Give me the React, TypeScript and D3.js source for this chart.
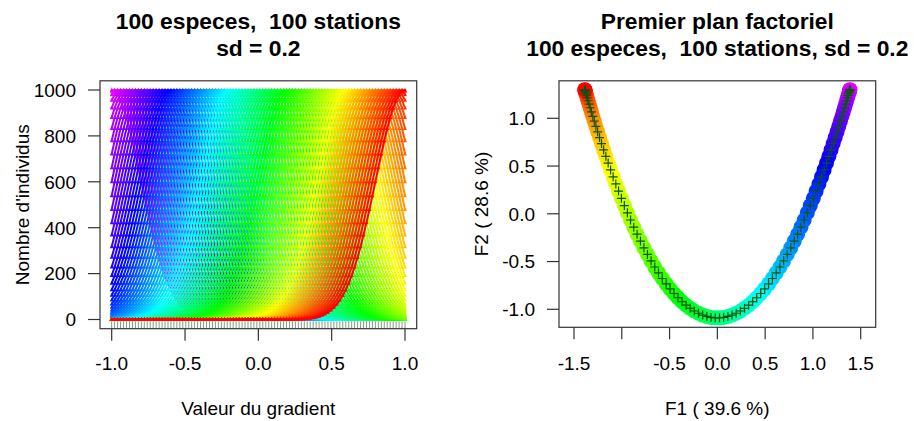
import React from 'react';
import * as d3 from 'd3';

// Gradient positions of the 100 stations (also the optima of the 100 species)
const gradient = [
  -1.0, -0.9798, -0.9596, -0.9394, -0.9192, -0.899, -0.8788, -0.8586, -0.8384, -0.8182,
  -0.798, -0.7778, -0.7576, -0.7374, -0.7172, -0.697, -0.6768, -0.6566, -0.6364, -0.6162,
  -0.596, -0.5758, -0.5556, -0.5354, -0.5152, -0.4949, -0.4747, -0.4545, -0.4343, -0.4141,
  -0.3939, -0.3737, -0.3535, -0.3333, -0.3131, -0.2929, -0.2727, -0.2525, -0.2323, -0.2121,
  -0.1919, -0.1717, -0.1515, -0.1313, -0.1111, -0.0909, -0.0707, -0.0505, -0.0303, -0.0101,
  0.0101, 0.0303, 0.0505, 0.0707, 0.0909, 0.1111, 0.1313, 0.1515, 0.1717, 0.1919,
  0.2121, 0.2323, 0.2525, 0.2727, 0.2929, 0.3131, 0.3333, 0.3535, 0.3737, 0.3939,
  0.4141, 0.4343, 0.4545, 0.4747, 0.4949, 0.5152, 0.5354, 0.5556, 0.5758, 0.596,
  0.6162, 0.6364, 0.6566, 0.6768, 0.697, 0.7172, 0.7374, 0.7576, 0.7778, 0.798,
  0.8182, 0.8384, 0.8586, 0.8788, 0.899, 0.9192, 0.9394, 0.9596, 0.9798, 1.0,
];

// Abundance of a species at a station k steps away from its optimum (sd = 0.2)
const profile = [
  1000, 994.9, 979.8, 955.1, 921.6, 880.3, 832.2, 778.8, 721.5, 661.5,
  600.4, 539.4, 479.7, 422.2, 367.9, 317.3, 270.9, 228.9, 191.5, 158.5,
  130.0, 105.4, 84.7, 67.3, 53.0, 41.2, 31.8, 24.3, 18.3, 13.7,
  10.1, 7.4, 5.4, 3.9, 2.7, 1.9, 1.3, 0.9, 0.6, 0.4, 0.3,
];

// Station scores on the first factorial plane (stations in gradient order)
const F1 = [
  1.387, 1.3863, 1.3842, 1.3807, 1.3759, 1.3696, 1.3619, 1.3529, 1.3425, 1.3308,
  1.3178, 1.3034, 1.2877, 1.2707, 1.2524, 1.2328, 1.212, 1.19, 1.1668, 1.1424,
  1.1169, 1.0903, 1.0625, 1.0337, 1.0038, 0.9729, 0.9411, 0.9082, 0.8746, 0.84,
  0.8045, 0.7683, 0.7313, 0.6935, 0.655, 0.6159, 0.5762, 0.5359, 0.495, 0.4536,
  0.4118, 0.3696, 0.327, 0.2841, 0.2409, 0.1974, 0.1537, 0.1099, 0.066, 0.022,
  -0.022, -0.066, -0.1099, -0.1537, -0.1974, -0.2409, -0.2841, -0.327, -0.3696, -0.4118,
  -0.4536, -0.495, -0.5359, -0.5762, -0.6159, -0.655, -0.6935, -0.7313, -0.7683, -0.8045,
  -0.84, -0.8746, -0.9082, -0.9411, -0.9729, -1.0038, -1.0337, -1.0625, -1.0903, -1.1169,
  -1.1424, -1.1668, -1.19, -1.212, -1.2328, -1.2524, -1.2707, -1.2877, -1.3034, -1.3178,
  -1.3308, -1.3425, -1.3529, -1.3619, -1.3696, -1.3759, -1.3807, -1.3842, -1.3863, -1.387,
];
const F2 = [
  1.3, 1.2976, 1.2904, 1.2784, 1.2617, 1.2403, 1.2144, 1.184, 1.1493, 1.1103,
  1.0673, 1.0204, 0.9699, 0.9158, 0.8585, 0.7982, 0.735, 0.6694, 0.6014, 0.5315,
  0.4598, 0.3868, 0.3125, 0.2375, 0.1619, 0.086, 0.0103, -0.0651, -0.1398, -0.2134,
  -0.2858, -0.3567, -0.4257, -0.4925, -0.5569, -0.6187, -0.6776, -0.7333, -0.7856, -0.8343,
  -0.8793, -0.9203, -0.9572, -0.9897, -1.0179, -1.0416, -1.0606, -1.075, -1.0846, -1.0894,
  -1.0894, -1.0846, -1.075, -1.0606, -1.0416, -1.0179, -0.9897, -0.9572, -0.9203, -0.8793,
  -0.8343, -0.7856, -0.7333, -0.6776, -0.6187, -0.5569, -0.4925, -0.4257, -0.3567, -0.2858,
  -0.2134, -0.1398, -0.0651, 0.0103, 0.086, 0.1619, 0.2375, 0.3125, 0.3868, 0.4598,
  0.5315, 0.6014, 0.6694, 0.735, 0.7982, 0.8585, 0.9158, 0.9699, 1.0204, 1.0673,
  1.1103, 1.1493, 1.184, 1.2144, 1.2403, 1.2617, 1.2784, 1.2904, 1.2976, 1.3,
];

const leftXTicks = [-1, -0.5, 0, 0.5, 1];
const leftXLabels = ['-1.0', '-0.5', '0.0', '0.5', '1.0'];
const leftYTicks = [0, 200, 400, 600, 800, 1000];
const rightXTicks = [-1.5, -1, -0.5, 0, 0.5, 1, 1.5];
const rightXLabels = ['-1.5', '', '-0.5', '0.0', '0.5', '1.0', '1.5'];
const rightYTicks = [-1, -0.5, 0, 0.5, 1];
const rightYLabels = ['-1.0', '-0.5', '0.0', '0.5', '1.0'];

const FONT = '"Liberation Sans", Arial, Helvetica, sans-serif';

const colorOf = (i: number, n: number) =>
  d3.hsl((300 * (n - 1 - i)) / (n - 1), 1, 0.5).formatHex();

export default function App() {
  const n = gradient.length;
  // left panel
  const xL = d3.scaleLinear().domain([-1, 1]).range([111.7, 405]);
  const yL = d3.scaleLinear().domain([0, 1000]).range([319.5, 90]);
  const boxL = { x0: 100, x1: 416.7, y0: 80.8, y1: 328.7 };
  // right panel
  const xR = d3.scaleLinear().domain([-1.5, 1.5]).range([574, 860.7]);
  const yR = d3.scaleLinear().domain([-1, 1]).range([309.3, 118.3]);
  const boxR = { x0: 559, x1: 875.7, y0: 80.8, y1: 327.3 };

  const line = d3
    .line<number>()
    .x((_, i) => xL(gradient[i]))
    .y((v) => yL(v));

  const tri = (cx: number, cy: number, w: number, h: number) =>
    `M${cx.toFixed(2)},${(cy - h * 0.6).toFixed(2)}l${w / 2},${h}h${-w}Z`;

  const curves: React.ReactNode[] = [];
  for (let j = 0; j < n; j++) {
    const vals = gradient.map((_, i) => {
      const k = Math.abs(i - j);
      return k < profile.length ? profile[k] : 0;
    });
    const col = colorOf(j, n);
    let pts = '';
    vals.forEach((v, i) => {
      pts += tri(xL(gradient[i]), yL(v), 4, 3.8);
    });
    curves.push(
      <g key={'s' + j}>
        <path d={line(vals) || ''} fill="none" stroke={col} strokeWidth={2} strokeLinejoin="round" />
        <path d={pts} fill={col} />
      </g>
    );
  }

  const axisStroke = '#333';
  const pre = { whiteSpace: 'pre' as const };
  return (
    <svg
      width={914}
      height={421}
      style={{ position: 'absolute', left: 0, top: 0, background: '#fff' }}
      fontFamily={FONT}
    >
      {/* LEFT PANEL */}
      <text x={258.3} y={28.5} textAnchor="middle" fontSize={22.8} fontWeight="bold" style={pre}>
        {'100 especes,  100 stations'}
      </text>
      <text x={258.3} y={55.5} textAnchor="middle" fontSize={22.8} fontWeight="bold">
        sd = 0.2
      </text>
      <g>{curves}</g>
      {gradient.map((g, i) => (
        <line key={'r' + i} x1={xL(g)} x2={xL(g)} y1={boxL.y1} y2={boxL.y1 - 7.4} stroke="#3f6f3f" strokeWidth={0.9} opacity={0.75} />
      ))}
      <rect x={boxL.x0} y={boxL.y0} width={boxL.x1 - boxL.x0} height={boxL.y1 - boxL.y0} fill="none" stroke={axisStroke} strokeWidth={1.2} />
      {leftXTicks.map((t, i) => (
        <g key={'lx' + i}>
          <line x1={xL(t)} x2={xL(t)} y1={boxL.y1} y2={boxL.y1 + 12} stroke={axisStroke} strokeWidth={1.2} />
          <text x={xL(t)} y={370} textAnchor="middle" fontSize={19}>{leftXLabels[i]}</text>
        </g>
      ))}
      {leftYTicks.map((t, i) => (
        <g key={'ly' + i}>
          <line x1={boxL.x0} x2={boxL.x0 - 12} y1={yL(t)} y2={yL(t)} stroke={axisStroke} strokeWidth={1.2} />
          <text x={76} y={yL(t)} dy="0.36em" textAnchor="end" fontSize={19}>{t}</text>
        </g>
      ))}
      <text x={258.3} y={415} textAnchor="middle" fontSize={19}>Valeur du gradient</text>
      <text transform={`translate(29,${(boxL.y0 + boxL.y1) / 2}) rotate(-90)`} textAnchor="middle" fontSize={19}>
        Nombre d'individus
      </text>

      {/* RIGHT PANEL */}
      <text x={717.3} y={28.5} textAnchor="middle" fontSize={22.8} fontWeight="bold">
        Premier plan factoriel
      </text>
      <text x={717.3} y={55.5} textAnchor="middle" fontSize={22.8} fontWeight="bold" style={pre}>
        {'100 especes,  100 stations, sd = 0.2'}
      </text>
      <g>
        {F1.map((f, i) => (
          <circle key={'c' + i} cx={xR(f)} cy={yR(F2[i])} r={7.5} fill={colorOf(i, n)} />
        ))}
      </g>
      <g stroke="#0b560b" strokeWidth={1.2}>
        {F1.map((f, i) => {
          const cx = xR(f);
          const cy = yR(F2[i]);
          return (
            <path key={'p' + i} d={`M${cx - 4.5},${cy}H${cx + 4.5}M${cx},${cy - 4.5}V${cy + 4.5}`} />
          );
        })}
      </g>
      <rect x={boxR.x0} y={boxR.y0} width={boxR.x1 - boxR.x0} height={boxR.y1 - boxR.y0} fill="none" stroke={axisStroke} strokeWidth={1.2} />
      {rightXTicks.map((t, i) => (
        <g key={'rx' + i}>
          <line x1={xR(t)} x2={xR(t)} y1={boxR.y1} y2={boxR.y1 + 12} stroke={axisStroke} strokeWidth={1.2} />
          <text x={xR(t)} y={370} textAnchor="middle" fontSize={19}>{rightXLabels[i]}</text>
        </g>
      ))}
      {rightYTicks.map((t, i) => (
        <g key={'ry' + i}>
          <line x1={boxR.x0} x2={boxR.x0 - 12} y1={yR(t)} y2={yR(t)} stroke={axisStroke} strokeWidth={1.2} />
          <text x={535} y={yR(t)} dy="0.36em" textAnchor="end" fontSize={19}>{rightYLabels[i]}</text>
        </g>
      ))}
      <text x={717.3} y={415} textAnchor="middle" fontSize={19}>F1 ( 39.6 %)</text>
      <text transform={`translate(488,${(boxR.y0 + boxR.y1) / 2}) rotate(-90)`} textAnchor="middle" fontSize={19}>
        F2 ( 28.6 %)
      </text>
    </svg>
  );
}
